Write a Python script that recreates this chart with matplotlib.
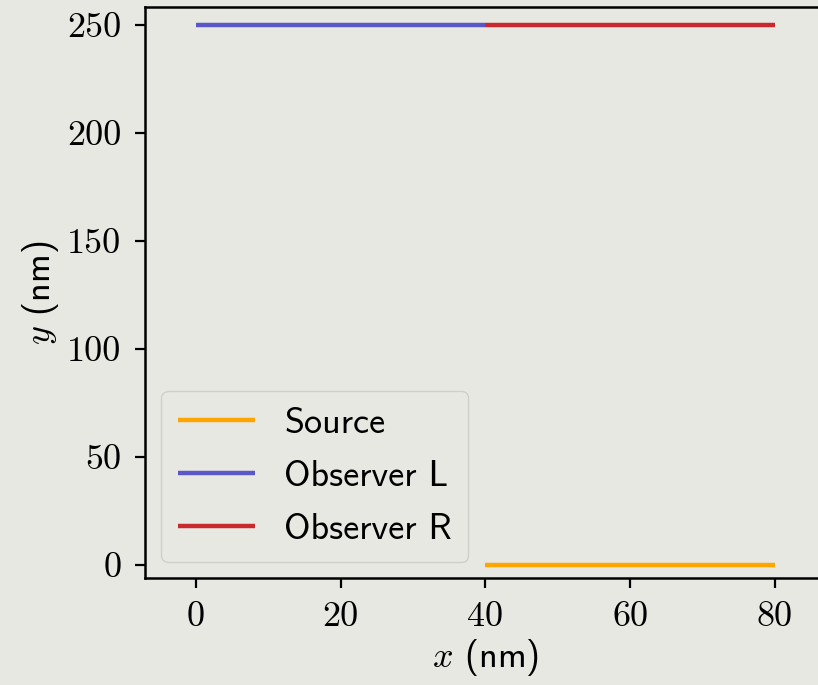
import matplotlib
matplotlib.use("Agg")
import matplotlib.pyplot as plt

# Segment end points (nm)
source_x = [40, 80]
source_y = [0, 0]
obs_l_x = [0, 40]
obs_l_y = [250, 250]
obs_r_x = [40, 80]
obs_r_y = [250, 250]

x_ticks = [0, 20, 40, 60, 80]
y_ticks = [0, 50, 100, 150, 200, 250]

plt.rcParams["mathtext.fontset"] = "cm"
plt.rcParams["font.family"] = "cmss10"
plt.rcParams["axes.unicode_minus"] = False

bg = "#e8e8e3"
fig = plt.figure(figsize=(8.18, 6.85), dpi=100, facecolor=bg)
ax = fig.add_axes([0.1773, 0.1562, 0.832, 0.8336], facecolor=bg)

ax.plot(source_x, source_y, color="#ffa500", lw=3.2, label="Source", solid_capstyle="butt")
ax.plot(obs_l_x, obs_l_y, color="#5b57c6", lw=3.2, label="Observer L", solid_capstyle="butt")
ax.plot(obs_r_x, obs_r_y, color="#c9282d", lw=3.2, label="Observer R", solid_capstyle="butt")

ax.set_xlim(-7, 87)
ax.set_ylim(-6, 258.3)
ax.set_xticks(x_ticks)
ax.set_yticks(y_ticks)
ax.set_xticklabels([str(v) for v in x_ticks], fontfamily="cmr10", fontsize=26)
ax.set_yticklabels([str(v) for v in y_ticks], fontfamily="cmr10", fontsize=26)
ax.tick_params(axis="x", direction="out", length=7, width=1.6, pad=10, color="black")
ax.tick_params(axis="y", direction="out", length=7, width=1.6, pad=10, color="black")

for side in ax.spines.values():
    side.set_linewidth(1.8)
    side.set_color("black")

ax.set_xlabel(r"$x$ (nm)", fontsize=26, labelpad=3)
ax.set_ylabel(r"$y$ (nm)", fontsize=26, labelpad=4)

leg = ax.legend(loc="lower left", fontsize=26, frameon=True, fancybox=True,
                borderpad=0.45, handlelength=2.15, handletextpad=0.8,
                labelspacing=0.55, borderaxespad=0.45)
leg.get_frame().set_facecolor(bg)
leg.get_frame().set_edgecolor("#cfcfcb")
leg.get_frame().set_alpha(1.0)

fig.savefig("out.png", dpi=100, facecolor=bg)
